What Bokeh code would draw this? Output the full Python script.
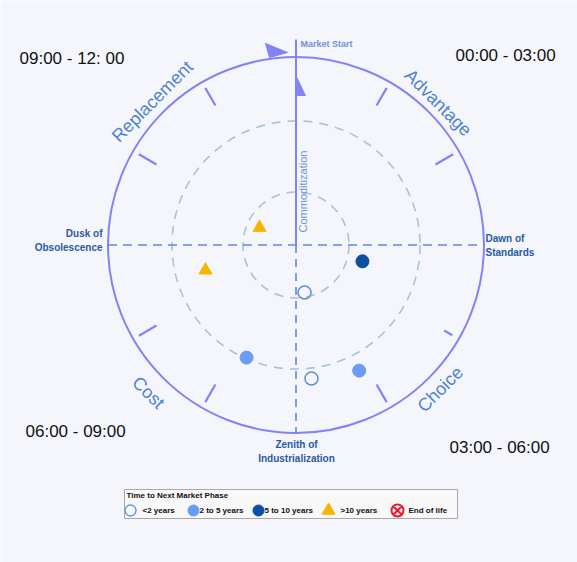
import numpy as np
from bokeh.plotting import figure
from bokeh.models import Range1d
from bokeh.core.properties import value
from bokeh.embed import file_html
from bokeh.resources import INLINE

# ---------------- data ----------------
series_names = ["<2 years", "2 to 5 years", "5 to 10 years", ">10 years", "End of life"]

# positions on the 12-hour market clock (hour, distance from centre as share of outer radius)
lt2_hours = [5.66, 5.78]
lt2_dist = [0.257, 0.715]
y2to5_hours = [6.79, 5.11]
y2to5_dist = [0.654, 0.748]
y5to10_hours = [3.46]
y5to10_dist = [0.364]
gt10_hours = [9.85, 8.48]
gt10_dist = [0.215, 0.50]

ring_dist = [0.282, 0.66]
tick_hours = [1, 2, 4, 5, 7, 8, 10, 11]

phase_names = ["Advantage", "Choice", "Cost", "Replacement"]
phase_hours = [1.5, 4.5, 7.5, 10.5]

quadrant_labels = ["00:00 - 03:00", "03:00 - 06:00", "06:00 - 09:00", "09:00 - 12: 00"]

legend_title = "Time to Next Market Phase"

# ---------------- layout / style ----------------
W, H = 577, 562
CX, CY = 295.5, 244.5
R = 188.0

BG = "#f5f6fb"
OUTER = "#8383f5"
AXIS_DASH = "#5b8be0"
RING = "#a9c3d9"
LABEL_LIGHT = "#6e93d6"
LABEL_DARK = "#2b5aa6"
PHASE = "#5083d0"
C_OPEN = "#5f8fd0"
C_LIGHT = "#6a9cf6"
C_DARK = "#0b4ea2"
C_TRI = "#f7b400"
C_RED = "#e8192c"
FONT = value("Liberation Sans")


def polar(hours, dist, radius=R):
    th = np.array(hours, dtype=float) / 12.0 * 2 * np.pi
    d = np.array(dist, dtype=float) * radius
    return d * np.sin(th), d * np.cos(th)


p = figure(width=W, height=H, x_range=Range1d(-CX, W - CX), y_range=Range1d(-(H - CY), CY),
           output_backend="svg", toolbar_location=None, min_border=0,
           x_axis_type=None, y_axis_type=None,
           background_fill_color=BG, border_fill_color=BG, outline_line_color=None)
p.grid.visible = False

# rings
p.circle(x=[0, 0], y=[0, 0], radius=[d * R for d in ring_dist], fill_color=None,
         line_color=RING, line_width=1.6, line_dash="9 7")
p.circle(x=[0], y=[0], radius=[R], fill_color=None, line_color=OUTER, line_width=2)

# axes
p.segment(x0=[-R], y0=[0], x1=[R], y1=[0], line_color=AXIS_DASH, line_width=1.6, line_dash="9 6")
p.segment(x0=[0], y0=[0], x1=[0], y1=[-R], line_color=AXIS_DASH, line_width=1.6, line_dash="8 6")
p.segment(x0=[0], y0=[0], x1=[0], y1=[1.093 * R], line_color=OUTER, line_width=2)

# ticks on the outer ring
th = np.array(tick_hours) / 12.0 * 2 * np.pi
r0 = np.where(np.array(tick_hours) == 4, 0.91 * R, 0.857 * R)
r1 = np.where(np.array(tick_hours) == 4, 0.96 * R, 0.965 * R)
p.segment(x0=r0 * np.sin(th), y0=r0 * np.cos(th), x1=r1 * np.sin(th), y1=r1 * np.cos(th),
          line_color=OUTER, line_width=2.2)

# arrowheads
p.patch(x=[-0.162 * R, -0.045 * R, -0.141 * R], y=[1.072 * R, 1.024 * R, 0.997 * R],
        fill_color=OUTER, line_color=OUTER)
p.patch(x=[0.0, 0.05 * R, 0.0], y=[0.90 * R, 0.795 * R, 0.795 * R],
        fill_color=OUTER, line_color=OUTER)

# axis texts
p.text(x=[4.5], y=[201.5], text=["Market Start"], text_font=FONT, text_font_size="9px",
       text_font_style="bold", text_color=LABEL_LIGHT, text_align="left", text_baseline="middle")
p.text(x=[6.5], y=[12.5], text=["Commoditization"], angle=np.pi / 2, text_font=FONT,
       text_font_size="11px", text_color=LABEL_LIGHT, text_align="left", text_baseline="middle")
p.text(x=[-193.5], y=[4.5], text=["Dusk of\nObsolescence"], text_font=FONT, text_font_size="10px",
       text_font_style="bold", text_color=LABEL_DARK, text_align="right", text_baseline="middle")
p.text(x=[189.5], y=[-0.5], text=["Dawn of\nStandards"], text_font=FONT, text_font_size="10px",
       text_font_style="bold", text_color=LABEL_DARK, text_align="left", text_baseline="middle")
p.text(x=[0.5], y=[-206.5], text=["Zenith of\nIndustrialization"], text_font=FONT,
       text_font_size="10px", text_font_style="bold", text_color=LABEL_DARK,
       text_align="center", text_baseline="middle")

# phase names along the ring
px, py = polar(phase_hours, [1.07, 1.085, 1.11, 1.08])
p.text(x=px, y=py, text=phase_names, angle=[-np.pi / 4, np.pi / 4, -np.pi / 4, np.pi / 4],
       text_font=FONT, text_font_size="18px", text_color=PHASE,
       text_align="center", text_baseline="middle")

# quadrant clock labels
p.text(x=[159.5, 153.5, -270.5, -276.5], y=[189.5, -202.5, -186.5, 186.5], text=quadrant_labels,
       text_font=FONT, text_font_size="17px", text_color="#111111",
       text_align="left", text_baseline="middle")

# data points
x, y = polar(lt2_hours, lt2_dist)
p.scatter(x=x, y=y, marker="circle", size=13, fill_color=None, line_color=C_OPEN, line_width=1.5)
x, y = polar(y2to5_hours, y2to5_dist)
p.scatter(x=x, y=y, marker="circle", size=13, fill_color=C_LIGHT, line_color=C_LIGHT)
x, y = polar(y5to10_hours, y5to10_dist)
p.scatter(x=x, y=y, marker="circle", size=13, fill_color=C_DARK, line_color=C_DARK)
x, y = polar(gt10_hours, gt10_dist)
p.scatter(x=x, y=y, marker="triangle", size=13, fill_color=C_TRI, line_color=C_TRI)

# legend box
p.quad(left=[-171.5], right=[161.5], bottom=[-273.5], top=[-244.5],
       fill_color="#f8f8f8", line_color="#a9a9a9", line_width=1)
p.text(x=[-169.5], y=[-250.5], text=[legend_title], text_font=FONT, text_font_size="8px",
       text_font_style="bold", text_color="#111111", text_align="left", text_baseline="middle")
lx = [-165.5, -102.5, -37.5, 32.5, 101.5]
ly = -265.5
p.scatter(x=[lx[0]], y=[ly], marker="circle", size=11, fill_color=None, line_color=C_OPEN, line_width=1.3)
p.scatter(x=[lx[1]], y=[ly], marker="circle", size=11, fill_color=C_LIGHT, line_color=C_LIGHT)
p.scatter(x=[lx[2]], y=[ly], marker="circle", size=11, fill_color=C_DARK, line_color=C_DARK)
p.scatter(x=[lx[3]], y=[ly], marker="triangle", size=13, fill_color=C_TRI, line_color=C_TRI)
p.scatter(x=[lx[4]], y=[ly], marker="circle_x", size=12, fill_color=None, line_color=C_RED, line_width=2)
p.text(x=[-153.5, -96.5, -31.5, 44.5, 112.5], y=[ly] * 5, text=series_names, text_font=FONT,
       text_font_size="8px", text_font_style="bold", text_color="#111111",
       text_align="left", text_baseline="middle")

open("out.html", "w").write(file_html(p, INLINE))
